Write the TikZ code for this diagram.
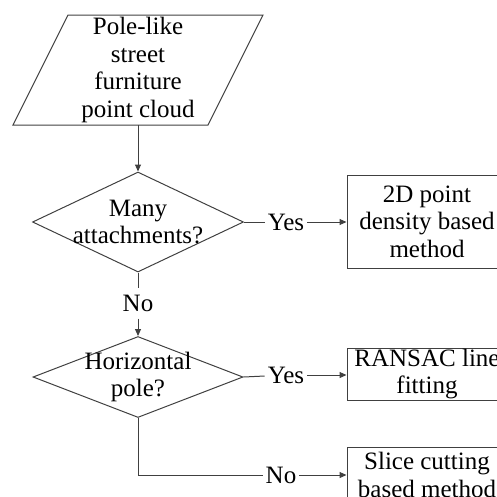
\documentclass[tikz,border=0pt]{standalone}
\usepackage{fontspec}
\setmainfont{Liberation Serif}
\usetikzlibrary{shapes.geometric,arrows.meta}
\definecolor{linegray}{HTML}{404040}
\tikzset{
  flowline/.style={line width=1pt,draw=linegray},
  arr/.style={flowline,-{Triangle[length=7pt,width=6pt]}},
  txt/.style={align=center,font=\fontsize{25}{27.5}\selectfont,inner sep=1pt},
  lbl/.style={font=\fontsize{25}{27.5}\selectfont,inner xsep=3pt,inner ysep=7pt},
  decision/.style={diamond,flowline,inner sep=1pt},
  process/.style={rectangle,flowline,minimum width=160pt,inner sep=0pt},
}

\begin{document}
\begin{tikzpicture}[x=1pt,y=-1pt]
  \useasboundingbox (0,0) rectangle (497,496);

  % input data (parallelogram)
  \node[txt,minimum height=110pt] (cloud) at (138,70) {Pole-like\\street\\furniture\\point cloud};
  \draw[flowline] (13,125) -- (68,15) -- (263,15) -- (208,125) -- cycle;

  % decisions
  \node[decision,minimum width=211pt,minimum height=100pt] (ask1) at (138,222) {};
  \node[txt] at (ask1) {Many\\attachments?};
  \node[decision,minimum width=210pt,minimum height=81pt] (ask2) at (138,377) {};
  \node[txt] at (ask2) {Horizontal\\pole?};

  % methods
  \node[process,minimum height=93pt] (m1) at (427,221.5) {};
  \node[txt] at (m1) {2D point\\density based\\method};
  \node[process,minimum height=52pt] (m2) at (427,374) {};
  \node[txt] at (m2) {RANSAC line\\fitting};
  \node[process,minimum height=56pt] (m3) at (427,475) {};
  \node[txt] at (m3) {Slice cutting\\based method};

  % branch labels
  \node[lbl] (yes1) at (286,222) {Yes};
  \node[lbl] (no1)  at (138,303) {No};
  \node[lbl] (yes2) at (286,375) {Yes};
  \node[lbl] (no2)  at (281,475) {No};

  % connectors
  \draw[arr] (cloud) -- (ask1);
  \draw[flowline] (ask1) -- (yes1);
  \draw[arr] (yes1) -- (yes1 -| m1.west);
  \draw[flowline] (ask1) -- (no1);
  \draw[arr] (no1) -- (ask2);
  \draw[flowline] (ask2.east) -- (yes2);
  \draw[arr] (yes2) -- (yes2 -| m2.west);
  \draw[flowline] (ask2) |- (no2);
  \draw[arr] (no2) -- (no2 -| m3.west);
\end{tikzpicture}
\end{document}
